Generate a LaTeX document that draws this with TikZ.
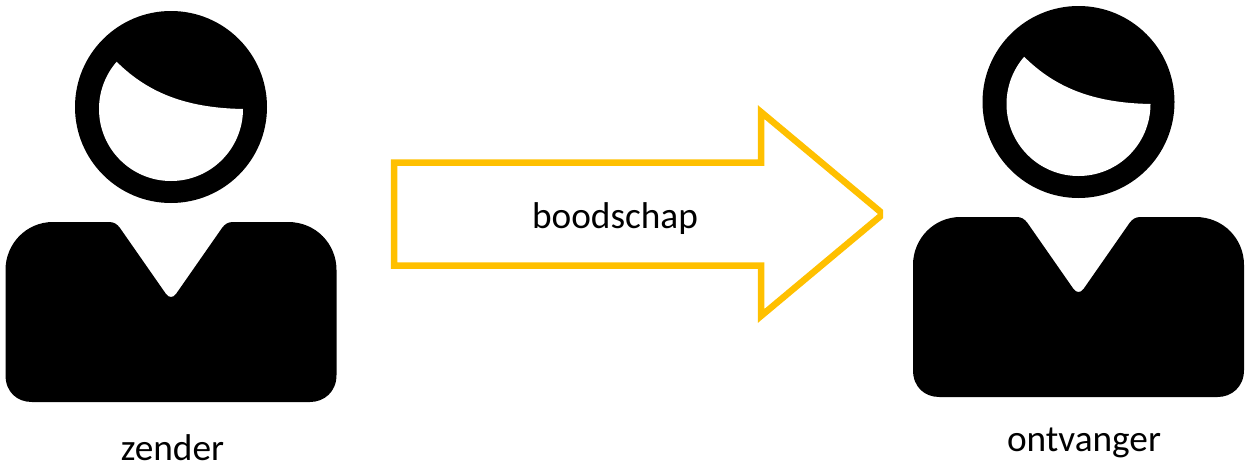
\documentclass[tikz,border=0pt]{standalone}
\usepackage{fontspec}
\setmainfont{Carlito}
\definecolor{arrowgold}{RGB}{255,192,0}
\tikzset{
    lbl/.style={font=\fontsize{37.3}{44}\selectfont,inner sep=0pt,anchor=base,text=black},
    person/.pic={
        \fill[black] (171,-107) circle (96);
        \fill[white] (116.7,-61.8) .. controls (150,-95) and (190,-108) .. (243,-109)
            arc[start angle=0,end angle=-221,radius=72] -- cycle;
        \fill[black] (53,-222) -- (109,-222) .. controls (114,-222) and (117,-224) .. (120,-228)
            -- (166,-294) .. controls (169,-298) and (173,-298) .. (176,-294)
            -- (222,-228) .. controls (225,-224) and (228,-222) .. (233,-222)
            -- (288,-222) .. controls (316,-222) and (336.5,-244) .. (336.5,-270)
            -- (336.5,-375) .. controls (336.5,-392) and (324,-402) .. (310,-402)
            -- (32,-402) .. controls (17,-402) and (5.5,-392) .. (5.5,-375)
            -- (5.5,-270) .. controls (5.5,-244) and (26,-222) .. (53,-222) -- cycle;
    }
}
\begin{document}
\begin{tikzpicture}[x=1pt,y=1pt]
    \useasboundingbox (0,0) rectangle (1245,-463);
    \pic (zender) at (0,0) {person};
    \pic (ontvanger) at (907.5,5) {person};
    % block arrow
    \begin{scope}
        \clip (380,-90) rectangle (883,-340);
        \draw[arrowgold,line width=6.5pt,miter limit=10] (394,-162.5) -- (761,-162.5) -- (761,-112)
            -- (883,-214) -- (761,-316) -- (761,-265.5) -- (394,-265.5) -- cycle;
    \end{scope}
    \node[lbl] (boodschap) at (615,-228) {boodschap};
    \node[lbl] (zenderlabel) at (172.5,-460) {zender};
    \node[lbl] (ontvangerlabel) at (1084,-451) {ontvanger};
\end{tikzpicture}
\end{document}
